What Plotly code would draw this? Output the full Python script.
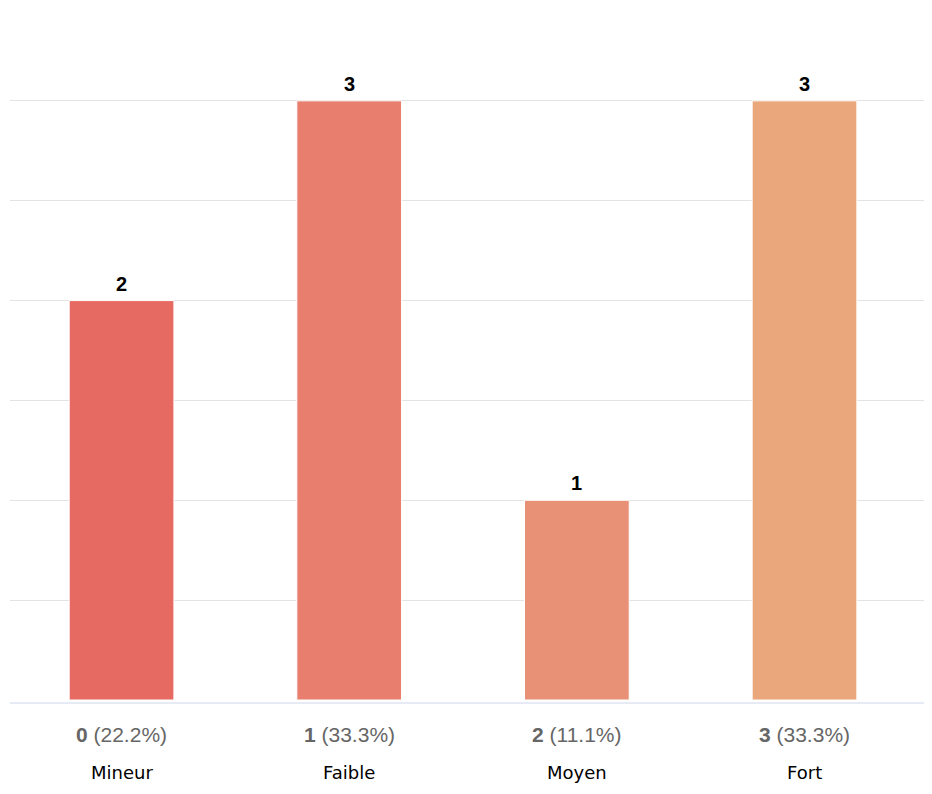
import plotly.graph_objects as go

codes = [0, 1, 2, 3]
categories = ["Mineur", "Faible", "Moyen", "Fort"]
counts = [2, 3, 1, 3]
percents = ["22.2%", "33.3%", "11.1%", "33.3%"]
colors = ["#E76A62", "#E77E6E", "#E89176", "#E9A77B"]

fig = go.Figure()
fig.add_trace(go.Bar(
    x=codes,
    y=counts,
    width=0.46,
    marker=dict(color=colors, line=dict(color="white", width=1)),
    hoverinfo="skip",
))

annotations = []
for c, v in zip(codes, counts):
    annotations.append(dict(
        x=c, y=v, xref="x", yref="y", text=f"<b>{v}</b>", showarrow=False,
        yanchor="bottom", yshift=4,
        font=dict(family="Liberation Sans, Arial, sans-serif", size=20, color="black"),
    ))
for c, cat, p in zip(codes, categories, percents):
    annotations.append(dict(
        x=c, y=0, xref="x", yref="paper", text=f"<b>{c}</b> ({p})", showarrow=False,
        yanchor="middle", yshift=-34,
        font=dict(family="Liberation Sans, Arial, sans-serif", size=21, color="#666666"),
    ))
    annotations.append(dict(
        x=c, y=0, xref="x", yref="paper", text=cat, showarrow=False,
        yanchor="middle", yshift=-72,
        font=dict(family="DejaVu Sans, Verdana, sans-serif", size=18, color="black"),
    ))

plot_h = 692
fig.update_layout(
    width=924, height=786,
    margin=dict(l=2, r=0, t=0, b=94),
    paper_bgcolor="white", plot_bgcolor="white",
    showlegend=False,
    annotations=annotations,
    xaxis=dict(range=[-0.49, 3.56], showticklabels=False, showgrid=False,
               zeroline=False, showline=False, fixedrange=True),
    yaxis=dict(range=[0, 3.465], dtick=0.5, showticklabels=False, showgrid=True,
               gridcolor="#e3e3e3", gridwidth=1, zeroline=False, showline=False),
    shapes=[dict(type="line", xref="paper", yref="paper", x0=0, x1=1,
                 y0=-3 / plot_h, y1=-3 / plot_h, line=dict(color="#ccd6eb", width=1))],
)

fig.write_html("out.html")
